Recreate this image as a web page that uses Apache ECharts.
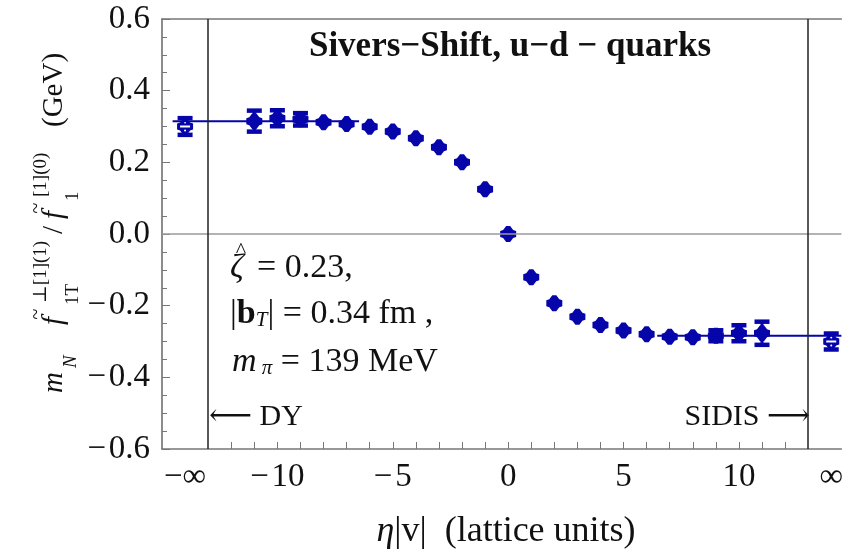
<!DOCTYPE html>
<html>
<head>
<meta charset="utf-8">
<script src="https://cdn.jsdelivr.net/npm/echarts@6/dist/echarts.min.js"></script>
<style>html,body{margin:0;padding:0;background:#fff}#c{width:846px;height:557px}</style>
</head>
<body>
<div id="c"></div>
<script>
// ---- data ----
const etaVals   = [-11,-10,-9,-8,-7,-6,-5,-4,-3,-2,-1,0,1,2,3,4,5,6,7,8,9,10,11];
const shiftVals = [0.315,0.323,0.320,0.312,0.307,0.299,0.286,0.267,0.242,0.200,0.125,0.000,
                   -0.121,-0.193,-0.231,-0.254,-0.269,-0.280,-0.287,-0.288,-0.284,-0.277,-0.277];
const shiftErrs = [0.030,0.023,0.018,0.012,0.008,0.005,0.004,0.004,0.004,0.004,0.004,0.004,
                   0.004,0.004,0.004,0.004,0.005,0.006,0.009,0.012,0.016,0.023,0.033];
const infEta  = [-14, 14];          // positions of the -inf / +inf points
const infVals = [0.300, -0.300];
const infErrs = [0.024, 0.023];
const fitLeftRange  = [-14.54, -6.46];
const fitLeftVal    = 0.315;
const fitRightRange = [6.46, 14.44];
const fitRightVal   = -0.284;
const boundaryEta = [-13, 13];      // DY / SIDIS separators
const xTickVals  = [-12,-11,-10,-9,-8,-7,-6,-5,-4,-3,-2,-1,0,1,2,3,4,5,6,7,8,9,10,11,12];
const xLabelVals = [-14,-10,-5,0,5,10,14];
const xLabelText = ['\u2212\u221e','\u2212\u200a10','\u2212\u200a5','0','5','10','\u221e'];

const BLUE = '#0505aa';
const INK = '#111';
const SERIF = '"Liberation Serif", "DejaVu Serif", serif';

const chart = echarts.init(document.getElementById('c'), null, {renderer:'canvas'});

const markerPts = [[-2,-8],[2,-8],[5,-4],[8,-3],[8,3],[5,4],[2,8],[-2,8],[-5,4],[-8,3],[-8,-3],[-5,-4]];

function renderPoint(params, api) {
  const x = api.value(0), y = api.value(1), e = api.value(2), hollow = api.value(3);
  const c = api.coord([x, y]);
  const t = api.coord([x, y + e]);
  const b = api.coord([x, y - e]);
  const children = [];
  if (b[1] - t[1] > 10) {
    children.push({type:'line', shape:{x1:c[0], y1:t[1], x2:c[0], y2:b[1]}, style:{stroke:BLUE, lineWidth:3}});
    children.push({type:'rect', shape:{x:c[0]-7.5, y:t[1]-2, width:15, height:4.5}, style:{fill:BLUE}});
    children.push({type:'rect', shape:{x:c[0]-7.5, y:b[1]-2.5, width:15, height:4.5}, style:{fill:BLUE}});
  }
  children.push({type:'polygon', shape:{points: markerPts.map(p => [c[0]+p[0], c[1]+p[1]])}, style:{fill:BLUE}});
  if (hollow) {
    children.push({type:'line', shape:{x1:c[0]-5, y1:c[1], x2:c[0]+5, y2:c[1]}, style:{stroke:'#fff', lineWidth:2}});
    children.push({type:'circle', shape:{cx:c[0], cy:c[1]-4, r:1}, style:{fill:'#fff'}});
    children.push({type:'circle', shape:{cx:c[0], cy:c[1]+4, r:1}, style:{fill:'#fff'}});
  }
  return {type:'group', children};
}

const mainData = etaVals.map((x, i) => [x, shiftVals[i], shiftErrs[i], 0]);
const infData  = infEta.map((x, i) => [x, infVals[i], infErrs[i], 1]);

function t(style, extra) { return Object.assign({type: 'text', style: Object.assign({fontFamily: SERIF, fill: INK}, style)}, extra); }

const option = {
  animation: false,
  backgroundColor: '#fff',
  grid: {left: 162, right: 0, top: 19, bottom: 108, containLabel: false},
  xAxis: [{
    type: 'value', min: -15, max: 14.44,
    splitLine: {show: false},
    axisLine: {show: true, onZero: false, lineStyle: {color: '#777', width: 1.5}},
    axisTick: {show: true, inside: true, length: 7, customValues: xTickVals, lineStyle: {color: '#777', width: 1}},
    axisLabel: {
      show: true, customValues: xLabelVals, margin: 12,
      fontFamily: SERIF, fontSize: 33, color: INK,
      formatter: v => { const i = xLabelVals.indexOf(Math.round(v)); return i >= 0 ? xLabelText[i] : ''; }
    }
  }, {
    type: 'value', position: 'top', min: -15, max: 14.44,
    splitLine: {show: false}, axisTick: {show: false}, axisLabel: {show: false},
    axisLine: {show: true, onZero: false, lineStyle: {color: '#777', width: 1.5}}
  }],
  yAxis: {
    type: 'value', min: -0.6, max: 0.6, interval: 0.2,
    splitLine: {show: false},
    axisLine: {show: true, onZero: false, lineStyle: {color: '#666', width: 1.5}},
    axisTick: {show: true, inside: true, length: 8, lineStyle: {color: '#777'}},
    minorTick: {show: true, splitNumber: 4, length: 5, lineStyle: {color: '#777'}},
    axisLabel: {
      margin: 12, fontFamily: SERIF, fontSize: 33, color: INK,
      formatter: v => (v < -1e-9 ? '\u2212\u200a' : '') + Math.abs(v).toFixed(1)
    }
  },
  series: [
    {
      type: 'line', data: [], silent: true,
      markLine: {
        silent: true, symbol: 'none', label: {show: false}, animation: false,
        data: [
          {yAxis: 0, lineStyle: {color: '#9a9a9a', width: 1.5, type: 'solid'}},
          {xAxis: boundaryEta[0], lineStyle: {color: '#222', width: 1.5, type: 'solid'}},
          {xAxis: boundaryEta[1], lineStyle: {color: '#222', width: 1.5, type: 'solid'}}
        ]
      }
    },
    {type: 'line', data: fitLeftRange.map(x => [x, fitLeftVal]), showSymbol: false, lineStyle: {color: BLUE, width: 2}, silent: true},
    {type: 'line', data: fitRightRange.map(x => [x, fitRightVal]), showSymbol: false, lineStyle: {color: BLUE, width: 2}, silent: true},
    {type: 'custom', renderItem: renderPoint, data: mainData, silent: true},
    {type: 'custom', renderItem: renderPoint, data: infData, silent: true}
  ],
  graphic: [
    t({text: 'Sivers\u2212Shift, u\u2212d \u2212 quarks', fontWeight: 'bold', fontSize: 35, align: 'center', verticalAlign: 'middle'}, {x: 510, y: 47}),
    // annotation line 1: zeta-hat
    t({text: '\u03b6', fontStyle: 'italic', fontSize: 34, align: 'left', verticalAlign: 'middle'}, {x: 230, y: 268}),
    t({text: '^', fontSize: 22, align: 'center', verticalAlign: 'middle'}, {x: 241, y: 251}),
    t({text: '= 0.23,', fontSize: 34, align: 'left', verticalAlign: 'middle'}, {x: 257, y: 268}),
    t({text: '{n||}{b|b}{s|T}{n|| = 0.34 fm ,}', align: 'left', verticalAlign: 'middle',
      rich: {
        n: {fontFamily: SERIF, fontSize: 34, fill: INK},
        b: {fontFamily: SERIF, fontWeight: 'bold', fontSize: 34, fill: INK},
        s: {fontFamily: SERIF, fontStyle: 'italic', fontSize: 21, fill: INK, padding: [12, 0, 0, 0]}
      }}, {x: 230, y: 314}),
    t({text: '{i|m}{s| \u03c0}{n| = 139 MeV}', align: 'left', verticalAlign: 'middle',
      rich: {
        i: {fontFamily: SERIF, fontStyle: 'italic', fontSize: 34, fill: INK},
        n: {fontFamily: SERIF, fontSize: 34, fill: INK},
        s: {fontFamily: SERIF, fontStyle: 'italic', fontSize: 21, fill: INK, padding: [12, 0, 0, 0]}
      }}, {x: 232, y: 362}),
    t({text: '\u27f5 DY', fontSize: 30, align: 'left', verticalAlign: 'middle'}, {x: 209, y: 417}),
    t({text: 'SIDIS \u27f6', fontSize: 30, align: 'right', verticalAlign: 'middle'}, {x: 810, y: 417}),
    t({text: '{i|\u03b7}{n||v|  (lattice units)}', align: 'center', verticalAlign: 'middle',
      rich: {i: {fontFamily: SERIF, fontStyle: 'italic', fontSize: 36, fill: INK}, n: {fontFamily: SERIF, fontSize: 36, fill: INK}}},
      {x: 506, y: 532}),
    {
      type: 'group', x: 63, y: 393, rotation: Math.PI / 2,
      children: [
        t({text: 'm', fontStyle: 'italic', fontSize: 29, verticalAlign: 'middle'}, {x: 0, y: -9}),
        t({text: 'N', fontStyle: 'italic', fontSize: 19, verticalAlign: 'middle'}, {x: 25, y: 8}),
        t({text: 'f', fontStyle: 'italic', fontSize: 29, verticalAlign: 'middle'}, {x: 68, y: -9}),
        t({text: '~', fontSize: 20, align: 'center', verticalAlign: 'middle'}, {x: 79, y: -26}),
        t({text: '\u22a5[1](1)', fontSize: 19, verticalAlign: 'middle'}, {x: 90, y: -22}),
        t({text: '1T', fontSize: 19, verticalAlign: 'middle'}, {x: 88, y: 10}),
        t({text: '/', fontSize: 29, verticalAlign: 'middle'}, {x: 159, y: -9}),
        t({text: 'f', fontStyle: 'italic', fontSize: 29, verticalAlign: 'middle'}, {x: 174, y: -9}),
        t({text: '~', fontSize: 20, align: 'center', verticalAlign: 'middle'}, {x: 185, y: -26}),
        t({text: '[1](0)', fontSize: 19, verticalAlign: 'middle'}, {x: 196, y: -22}),
        t({text: '1', fontSize: 19, verticalAlign: 'middle'}, {x: 192, y: 10}),
        t({text: '(GeV)', fontSize: 29, verticalAlign: 'middle'}, {x: 266, y: -9})
      ]
    }
  ]
};
chart.setOption(option);
</script>
</body>
</html>
